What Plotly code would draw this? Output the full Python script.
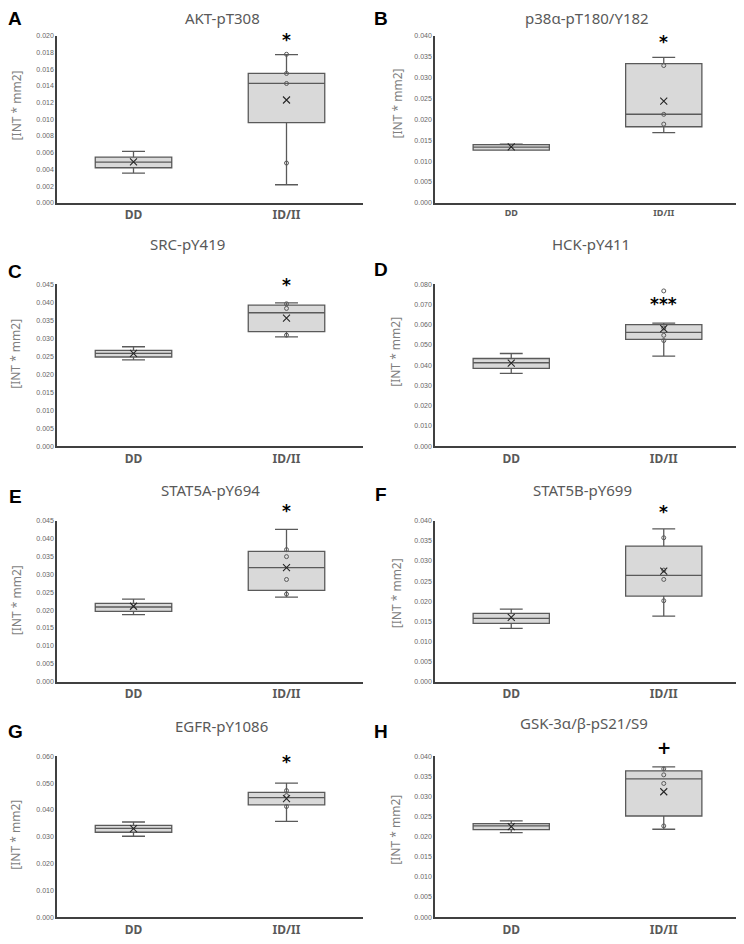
import plotly.graph_objects as go

panels = ["A", "B", "C", "D", "E", "F", "G", "H"]
titles = ["AKT-pT308", "p38α-pT180/Y182", "SRC-pY419", "HCK-pY411",
          "STAT5A-pY694", "STAT5B-pY699", "EGFR-pY1086", "GSK-3α/β-pS21/S9"]
categories = ["DD", "ID/II"]

lower_whisker = [[0.00356, 0.00216], [0.0128, 0.0168], [0.02397, 0.0304], [0.03599, 0.0445],
                 [0.01874, 0.02366], [0.01325, 0.01631], [0.03018, 0.03573], [0.02103, 0.02186]]
q1 = [[0.0042, 0.0096], [0.01262, 0.01822], [0.0248, 0.03187], [0.03845, 0.05284],
      [0.01967, 0.02552], [0.01449, 0.02128], [0.03166, 0.04189], [0.02177, 0.02515]]
median = [[0.00488, 0.01432], [0.01335, 0.02122], [0.0258, 0.0371], [0.04123, 0.05628],
          [0.02088, 0.03192], [0.01573, 0.02642], [0.03314, 0.0446], [0.02268, 0.03439]]
q3 = [[0.00548, 0.0155], [0.01392, 0.03337], [0.02663, 0.03921], [0.04335, 0.06004],
      [0.0219, 0.03646], [0.01698, 0.03371], [0.03425, 0.04657], [0.02326, 0.03637]]
upper_whisker = [[0.00616, 0.01776], [0.01405, 0.03487], [0.02764, 0.03986], [0.04581, 0.06086],
                 [0.0231, 0.04259], [0.01805, 0.03801], [0.03548, 0.05002], [0.02392, 0.03736]]
mean = [[0.0049, 0.01232], [0.0134, 0.02438], [0.0258, 0.03563], [0.0411, 0.05808],
        [0.0211, 0.0319], [0.0160, 0.0275], [0.0330, 0.04423], [0.0225, 0.03118]]
points_id = [[0.0178, 0.0155, 0.0143, 0.00476], [0.0329, 0.0212, 0.01886],
             [0.03958, 0.0383, 0.03086], [0.07673, 0.0584, 0.0548, 0.0522],
             [0.03693, 0.03498, 0.02858, 0.0245], [0.03578, 0.02774, 0.02542, 0.02012],
             [0.04719, 0.04534, 0.04127], [0.03687, 0.03538, 0.03324, 0.02268]]
y_max = [0.020, 0.040, 0.045, 0.080, 0.045, 0.040, 0.060, 0.040]
y_dtick = [0.002, 0.005, 0.005, 0.010, 0.005, 0.005, 0.010, 0.005]
sig_text = ["*", "*", "*", "***", "*", "*", "*", "+"]
sig_y = [0.0194, 0.0383, 0.0446, 0.0695, 0.0473, 0.0418, 0.0573, 0.0422]

# page has an 8px body margin: figure is drawn at (8, 8)
OFF = 8
W, H = 744 - OFF, 944 - OFF
row_px = [(33, 201), (283, 446), (521, 683), (758, 920)]
col_px = [(57, 363), (435, 740)]
title_pos = [(222, 8), (587, 11), (187, 242), (591, 242), (210, 490), (582, 490), (221, 728), (584, 725)]
label_pos = [(9, 14), (381, 14), (9, 270), (381, 268), (9, 497), (381, 495), (9, 733), (381, 733)]
ytitle_pos = [(16, 103), (397, 101), (16, 353), (396, 351), (16, 601), (396, 594), (16, 837), (396, 832)]


def px_x(p):
    return (p - OFF) / W


def px_y(p):
    return 1 - (p - OFF) / H


LINE = "#404040"
BOXLINE = "#5a5a5a"
TXT = "#595959"
FONT = "Noto Sans"
TITLE_SIZE = 15
LABEL_SIZE = 19

fig = go.Figure()
annotations = []
layout_axes = {}

for i in range(8):
    r, c = i // 2, i % 2
    n = "" if i == 0 else str(i + 1)
    xa, ya = "x" + n, "y" + n
    fig.add_trace(go.Box(
        x=categories, q1=q1[i], median=median[i], q3=q3[i],
        lowerfence=lower_whisker[i], upperfence=upper_whisker[i],
        fillcolor="#d9d9d9", line=dict(color=BOXLINE, width=1.3),
        width=0.5, whiskerwidth=0.3, boxpoints=False, hoverinfo="skip",
        xaxis=xa, yaxis=ya, showlegend=False))
    fig.add_trace(go.Scatter(
        x=[categories[1]] * len(points_id[i]), y=points_id[i], mode="markers",
        marker=dict(symbol="circle-open", size=4, color=BOXLINE, line=dict(width=1)),
        xaxis=xa, yaxis=ya, showlegend=False, cliponaxis=False))
    fig.add_trace(go.Scatter(
        x=categories, y=mean[i], mode="markers",
        marker=dict(symbol="x-thin-open", size=7, color="#262626", line=dict(width=1.1, color="#262626")),
        xaxis=xa, yaxis=ya, showlegend=False))

    x0, x1 = col_px[c]
    yt, yb = row_px[r]
    layout_axes["xaxis" + n] = dict(
        domain=[px_x(x0), min(px_x(x1), 1.0)], anchor=ya, type="category", range=[-0.5, 1.5],
        showline=True, linewidth=2, linecolor=LINE, ticks="", showgrid=False, zeroline=False,
        tickfont=dict(family=FONT, size=12 if i != 1 else 9, color=TXT, weight="bold"))
    layout_axes["yaxis" + n] = dict(
        domain=[px_y(yb), px_y(yt)], anchor=xa, range=[0, y_max[i] * 1.0005],
        dtick=y_dtick[i], tick0=0, tickformat=".3f", showline=True, linewidth=1.5,
        linecolor=LINE, ticks="", showgrid=False, zeroline=False,
        tickfont=dict(family="Liberation Sans", size=7, color="#666666"))

    # significance mark, placed in paper coordinates so it can sit above the axis range
    sig_px = yb - (sig_y[i] / y_max[i]) * (yb - yt)
    is_plus = sig_text[i] == "+"
    annotations.append(dict(text="<b>" + sig_text[i] + "</b>", x=categories[1],
                            y=px_y(sig_px), xref=xa, yref="paper",
                            showarrow=False, font=dict(family="DejaVu Sans", size=17, color="#000000"),
                            yanchor="middle", yshift=-1 if is_plus else 1))
    tx, ty = title_pos[i]
    ty = max(ty, OFF + 0.45 * TITLE_SIZE)
    annotations.append(dict(text=titles[i], x=px_x(tx), y=px_y(ty), xref="paper", yref="paper",
                            showarrow=False, xanchor="center", yanchor="middle", borderpad=0,
                            font=dict(family=FONT, size=TITLE_SIZE, color=TXT)))
    lx, ly = label_pos[i]
    lx = max(lx, OFF + 7)
    ly = max(ly, OFF + 0.42 * LABEL_SIZE)
    annotations.append(dict(text="<b>" + panels[i] + "</b>", x=px_x(lx), y=px_y(ly),
                            xref="paper", yref="paper", showarrow=False, borderpad=0,
                            xanchor="center", yanchor="middle",
                            font=dict(family="Liberation Sans", size=LABEL_SIZE, color="#000000")))
    ax_, ay_ = ytitle_pos[i]
    annotations.append(dict(text="[INT * mm2]", x=px_x(ax_), y=px_y(ay_), xref="paper", yref="paper",
                            showarrow=False, textangle=-90, xanchor="center", yanchor="middle",
                            font=dict(family=FONT, size=12, color="#7f7f7f")))

fig.update_layout(width=W, height=H, margin=dict(l=0, r=0, t=0, b=0),
                  plot_bgcolor="white", paper_bgcolor="white",
                  annotations=annotations, **layout_axes)
fig.write_html("out.html")
